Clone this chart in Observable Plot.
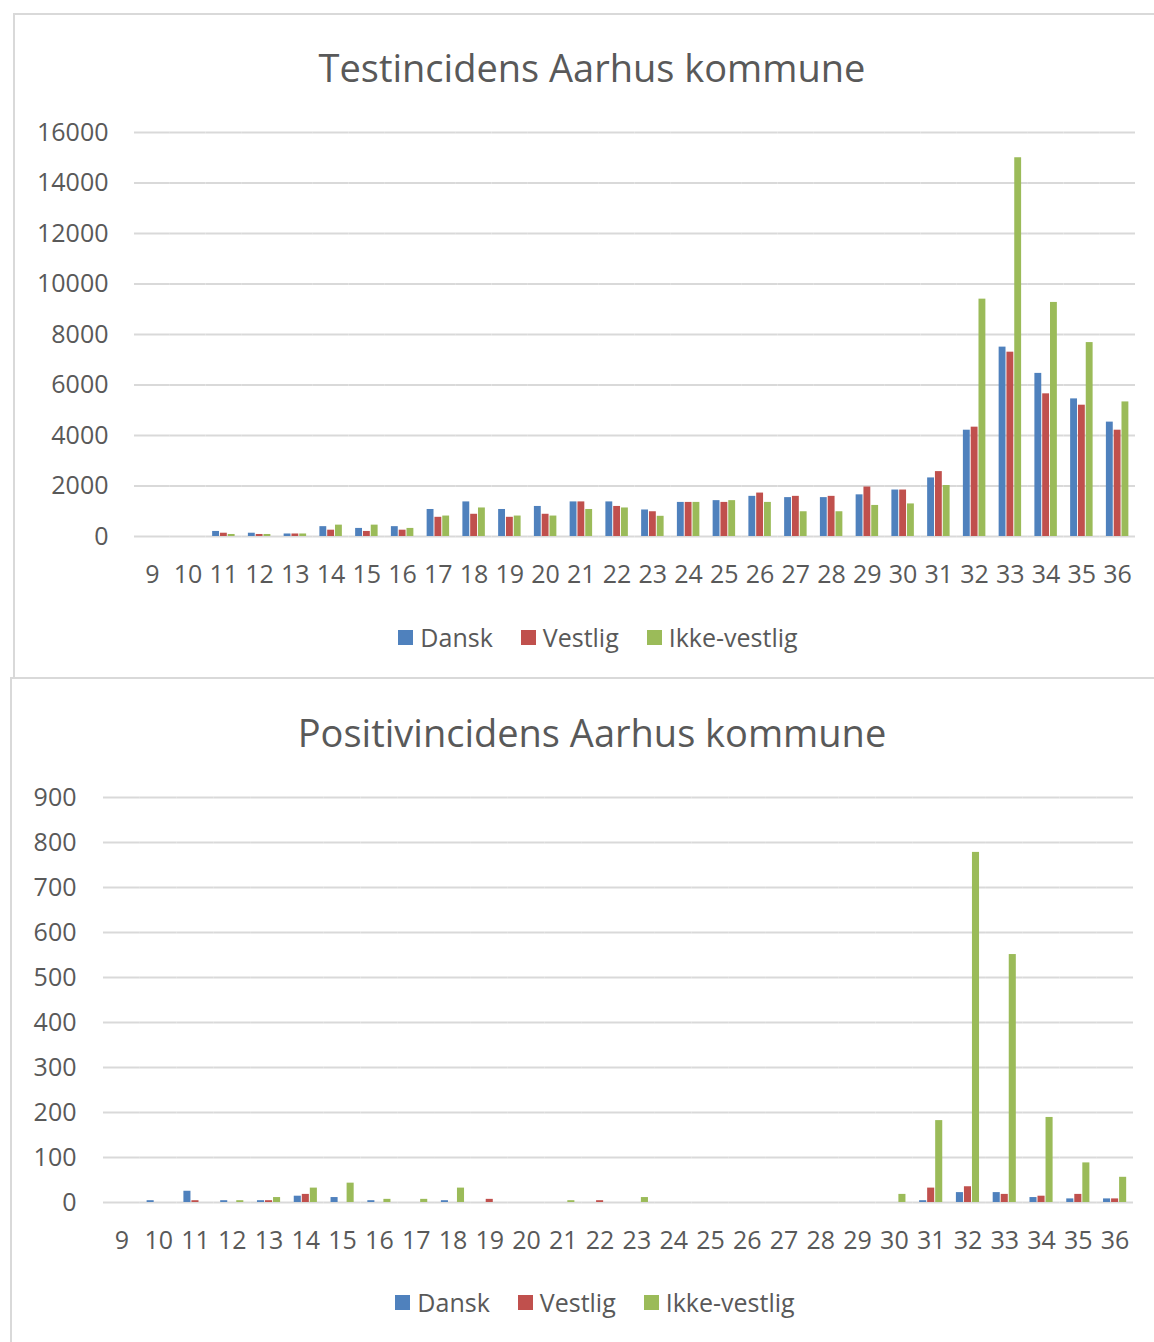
<!DOCTYPE html>
<html>
<head>
<meta charset="utf-8">
<script src="https://cdn.jsdelivr.net/npm/d3@7"></script>
<script src="https://cdn.jsdelivr.net/npm/@observablehq/plot@0.6"></script>
<style>
  body { margin: 0; background: #fff; }
  #root { position: relative; width: 1154px; height: 1342px; overflow: hidden; font-family: "Open Sans", sans-serif; color: #595959; }
  .panel { position: absolute; border-top: 2px solid #d9d9d9; border-left: 2px solid #d9d9d9; box-sizing: border-box; }
  .title { position: absolute; left: 0; width: 1184px; text-align: center; font-size: 38px; line-height: 38px; color: #595959; white-space: nowrap; }
  .legend { position: absolute; left: 0; width: 1196px; display: flex; justify-content: center; gap: 28px; font-size: 25px; line-height: 30px; color: #595959; }
  .legend span.item { display: flex; align-items: center; gap: 7px; }
  .legend span.sw { display: inline-block; width: 15px; height: 15px; }
  .chart { position: absolute; left: 0; }
</style>
</head>
<body>
<div id="root">
  <div class="panel" style="left:13px;top:13px;width:1141px;height:666px;"></div>
  <div class="panel" style="left:10px;top:677px;width:1144px;height:665px;"></div>
  <div class="title" style="top:48px;">Testincidens Aarhus kommune</div>
  <div class="title" style="top:713px;">Positivincidens Aarhus kommune</div>
  <div id="chart1" class="chart" style="top:100px;"></div>
  <div id="chart2" class="chart" style="top:760px;"></div>
  <div id="legend1" class="legend" style="top:622px;"></div>
  <div id="legend2" class="legend" style="top:1287px;width:1190px;"></div>
</div>
<script>
const weeks = [9,10,11,12,13,14,15,16,17,18,19,20,21,22,23,24,25,26,27,28,29,30,31,32,33,34,35,36];
const seriesNames = ["Dansk", "Vestlig", "Ikke-vestlig"];
const seriesColors = ["#4F81BD", "#C0504D", "#9BBB59"];

// Testincidens
const testDansk   = [0,0,200,130,100,390,320,390,1070,1370,1070,1190,1370,1370,1050,1350,1420,1590,1540,1540,1650,1840,2320,4210,7500,6460,5450,4530];
const testVestlig = [0,0,130,80,100,250,200,250,760,880,760,880,1370,1190,980,1350,1350,1720,1590,1590,1960,1840,2570,4330,7300,5650,5200,4210];
const testIkke    = [0,0,80,80,100,450,450,320,810,1130,810,810,1070,1130,800,1350,1420,1350,980,980,1230,1290,2020,9400,15000,9270,7680,5330];

// Positivincidens
const posDansk   = [0,4,25,4,4,14,11,4,0,4,0,0,0,0,0,0,0,0,0,0,0,0,4,22,22,11,8,8];
const posVestlig = [0,0,4,0,4,18,0,0,0,0,7,0,0,4,0,0,0,0,0,0,0,0,32,35,18,14,18,8];
const posIkke    = [0,0,0,4,11,32,43,7,7,32,0,0,4,0,11,0,0,0,0,0,0,18,182,778,551,189,88,56];

const testTicks = [0,2000,4000,6000,8000,10000,12000,14000,16000];
const posTicks = [0,100,200,300,400,500,600,700,800,900];

function rows(a, b, c) {
  const cols = [a, b, c];
  return weeks.flatMap((w, i) => seriesNames.map((s, j) => ({week: w, series: s, value: cols[j][i]})));
}

function chart(data, ticks, opts) {
  return Plot.plot({
    width: 1154,
    height: 500,
    marginLeft: opts.marginLeft,
    marginRight: opts.marginRight,
    marginTop: opts.marginTop,
    marginBottom: opts.marginBottom,
    style: {fontFamily: "'Open Sans', sans-serif", color: "#595959", background: "transparent"},
    fx: {domain: weeks, paddingInner: 0, paddingOuter: 0, round: false, label: null},
    x: {domain: seriesNames, paddingInner: 0.12, paddingOuter: 0.85, round: false, axis: null},
    y: {domain: [ticks[0], ticks[ticks.length - 1]], label: null, axis: null},
    color: {domain: seriesNames, range: seriesColors},
    marks: [
      Plot.gridY(ticks, {stroke: "#d9d9d9", strokeOpacity: 1, strokeWidth: 2}),
      Plot.axisY(ticks, {anchor: "left", tickSize: 0, tickPadding: opts.yPad, fontSize: 25, fill: "#595959", label: null, tickFormat: d => String(d)}),
      Plot.axisFx({anchor: "bottom", tickSize: 0, tickPadding: 29, fontSize: 25, fill: "#595959", label: null}),
      Plot.barY(data, {fx: "week", x: "series", y: "value", fill: "series"})
    ]
  });
}

document.getElementById("chart1").appendChild(
  chart(rows(testDansk, testVestlig, testIkke), testTicks, {marginLeft: 134, marginRight: 19, marginTop: 32, marginBottom: 64, yPad: 26})
);
document.getElementById("chart2").appendChild(
  chart(rows(posDansk, posVestlig, posIkke), posTicks, {marginLeft: 103, marginRight: 21, marginTop: 37, marginBottom: 58, yPad: 27})
);

function legend(id) {
  const el = document.getElementById(id);
  seriesNames.forEach((s, i) => {
    const item = document.createElement("span");
    item.className = "item";
    const sw = document.createElement("span");
    sw.className = "sw";
    sw.style.background = seriesColors[i];
    const t = document.createElement("span");
    t.textContent = s;
    item.appendChild(sw);
    item.appendChild(t);
    el.appendChild(item);
  });
}
legend("legend1");
legend("legend2");
</script>
</body>
</html>
